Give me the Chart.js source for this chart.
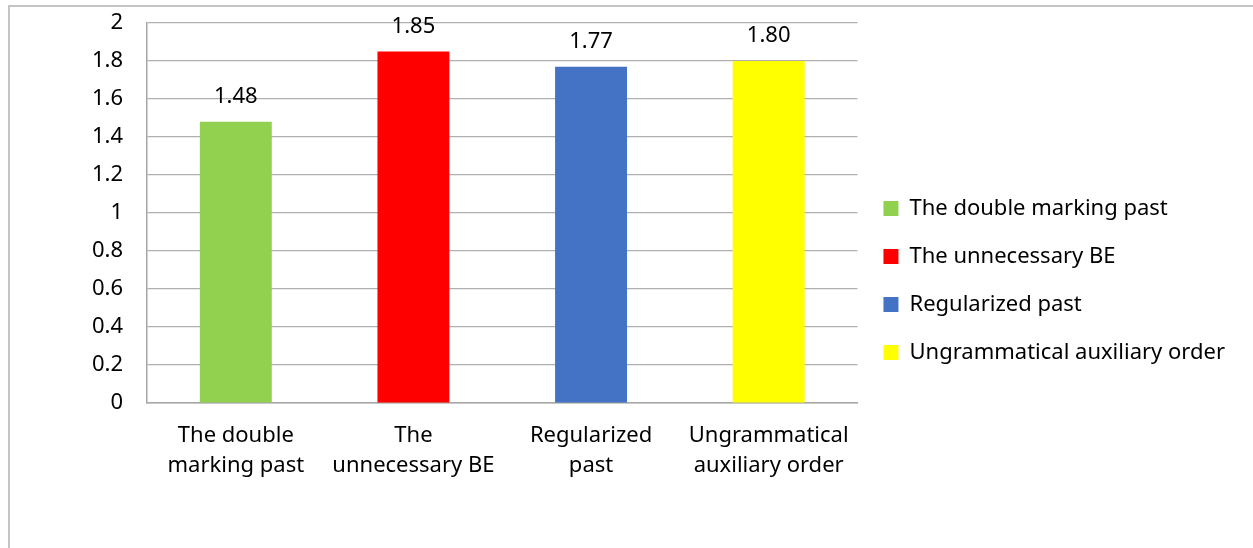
<!DOCTYPE html>
<html>
<head>
<meta charset="utf-8">
<script src="https://cdn.jsdelivr.net/npm/chart.js@4"></script>
<style>
    body{margin:0; background:#fff; overflow:hidden;}
    .frame{position:absolute; left:8px; top:5px; width:1400px; height:700px; border-left:2px solid #c4c4c4; border-top:2px solid #c4c4c4;}
    .wrap{position:absolute; left:0; top:0; width:1253px; height:548px;}
</style>
</head>
<body>
<div class="frame"></div>
<div class="wrap"><canvas id="myChart" width="1253" height="548"></canvas></div>
<script>
    var categories = [['The double', 'marking past'], ['The', 'unnecessary BE'], ['Regularized', 'past'], ['Ungrammatical', 'auxiliary order']];
    var legendNames = ['The double marking past', 'The unnecessary BE', 'Regularized past', 'Ungrammatical auxiliary order'];
    var values = [1.48, 1.85, 1.77, 1.80];
    var barColors = ['#92d050', '#ff0000', '#4472c4', '#ffff00'];

    var FONT = '"Noto Sans", sans-serif';
    var FS = 22;
    Chart.defaults.font.family = FONT;
    Chart.defaults.font.size = FS;
    Chart.defaults.color = '#000';

    // value labels above bars
    var barLabels = {
        id: 'barLabels',
        afterDatasetsDraw: function(chart){
            var ctx = chart.ctx;
            var meta = chart.getDatasetMeta(0);
            ctx.save();
            ctx.font = FS + 'px ' + FONT;
            ctx.fillStyle = '#000';
            ctx.textAlign = 'center';
            ctx.textBaseline = 'alphabetic';
            meta.data.forEach(function(bar, i){
                ctx.fillText(values[i].toFixed(2), bar.x, bar.y - 19);
            });
            ctx.restore();
        }
    };

    new Chart(document.getElementById('myChart'), {
        type: 'bar',
        data: {
            labels: categories,
            datasets: [{
                data: values,
                backgroundColor: barColors,
                borderWidth: 0,
                categoryPercentage: 1,
                barPercentage: 0.405
            }]
        },
        options: {
            responsive: false,
            animation: false,
            layout: {padding: {left: 0, top: 23, right: 18, bottom: 10}},
            plugins: {
                tooltip: {enabled: false},
                legend: {
                    position: 'right',
                    maxWidth: 420,
                    labels: {
                        boxWidth: 15,
                        boxHeight: 15,
                        padding: 26,
                        font: {size: FS},
                        generateLabels: function(chart){
                            return legendNames.map(function(n, i){
                                return {text: n, fillStyle: barColors[i], strokeStyle: barColors[i], lineWidth: 0, index: i};
                            });
                        }
                    }
                }
            },
            scales: {
                x: {
                    grid: {display: false},
                    border: {color: '#a6a6a6', width: 1.5},
                    ticks: {maxRotation: 0, padding: 10, font: {size: FS, lineHeight: 1.36}},
                    afterFit: function(s){ s.height = 135; }
                },
                y: {
                    min: 0, max: 2,
                    grid: {color: '#b0b0b0', lineWidth: 1.2, drawTicks: false},
                    border: {color: '#a6a6a6', width: 1.5},
                    ticks: {stepSize: 0.2, padding: 24, font: {size: FS}, callback: function(v){ return Math.round(v * 10) / 10; }},
                    afterFit: function(s){ s.width = 147; s.paddingTop = 0; s.paddingBottom = 0; }
                }
            }
        },
        plugins: [barLabels]
    });
</script>
</body>
</html>
